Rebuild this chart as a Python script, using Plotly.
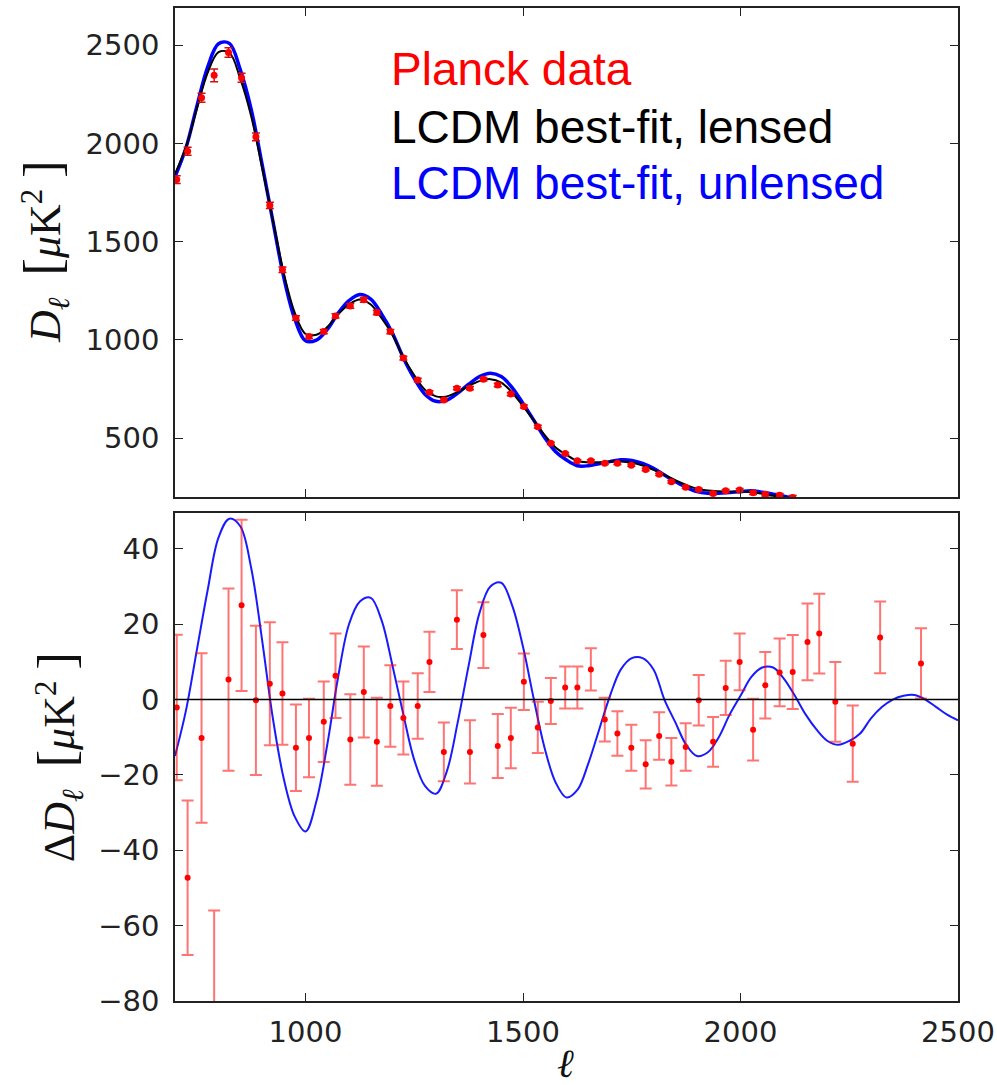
import plotly.graph_objects as go

# ---------------- data ----------------
ell_curve = [700, 725, 750, 775, 800, 825, 850, 875, 900, 925, 950, 975,
             1000, 1025, 1050, 1075, 1100, 1125, 1150, 1175, 1200, 1225, 1250, 1275,
             1300, 1325, 1350, 1375, 1400, 1425, 1450, 1475, 1500, 1525, 1550, 1575,
             1600, 1625, 1650, 1675, 1700, 1725, 1750, 1775, 1800, 1825, 1850, 1875,
             1900, 1925, 1950, 1975, 2000, 2025, 2050, 2075, 2100, 2125, 2150, 2175,
             2200, 2225, 2250, 2275, 2300, 2325, 2350, 2375, 2400, 2425, 2450, 2475, 2500]

# lensed best-fit D_ell (visible part, to ell = 2200)
dl_lensed = [1845, 1980, 2175, 2360, 2465, 2462, 2330, 2140, 1880, 1610, 1340, 1140,
             1030, 1026, 1065, 1130, 1180, 1205, 1180, 1110, 1025, 912, 820, 745,
             712, 712, 735, 765, 790, 800, 782, 732, 662, 590, 515, 452,
             414, 383, 376, 377, 379, 381, 375, 360, 338, 312, 285, 261,
             242, 233, 229, 227, 226, 225, 216, 206, 198, 188, 178, 168, 158]

# unlensed minus lensed (blue curve, lower panel)
dl_diff = [-15, -3, 13, 29, 43, 48, 46, 35, 16, -5, -21, -31,
           -35, -27, -12, 6, 20, 26, 27, 21, 9, -4, -16, -23,
           -25, -19, -6, 9, 23, 30, 31, 25, 14, 0, -13, -22,
           -26, -24, -17, -8, 1, 8, 11, 11, 8, 0, -6, -12,
           -15, -14, -10, -4, 1, 6, 8.5, 8.5, 5.5, 1, -4, -8,
           -11, -12, -11, -9, -5, -2, 0, 1, 1.2, 0, -2, -4, -5.5]

ell_bins = [704, 729, 761, 790, 823, 853, 886, 918, 947, 978, 1008, 1042, 1069, 1103,
            1134, 1164, 1195, 1225, 1258, 1285, 1318, 1348, 1378, 1409, 1442, 1472,
            1502, 1534, 1564, 1597, 1625, 1656, 1688, 1717, 1749, 1782, 1813, 1841,
            1874, 1904, 1937, 1966, 1998, 2029, 2057, 2090, 2120, 2154, 2181, 2218,
            2258, 2321, 2415]

# Planck binned D_ell (upper panel, visible bins)
dl_data = [1816, 1961, 2233, 2347, 2463, 2335, 2034, 1685, 1357, 1111, 1017, 1042,
           1122, 1173, 1204, 1139, 1042, 907, 796, 733, 694, 754, 754, 799, 770,
           724, 661, 558, 473, 421, 384, 384, 371, 371, 362, 340, 315, 277, 249,
           238, 218, 231, 235, 221, 214, 209, 197]

# residuals data - lensed best fit (lower panel)
res_data = [-2.1, -47.3, -10.2, -88, 5.3, 25.0, -0.2, 4.2, 1.6, -12.8, -10.2, -5.9,
            6.3, -10.6, 2.0, -11.2, -1.7, -4.9, -1.7, 10.0, -13.9, 21.2, -13.9, 17.1,
            -12.3, -10.2, 4.7, -7.4, -0.4, 3.2, 3.2, 8.0, -5.3, -9.0, -12.8, -17.2,
            -9.7, -16.5, -12.6, -0.2, -11.2, 3.1, 10.0, -8.0, 3.8, 7.2, 7.3, 15.3,
            17.5, -0.6, -11.7, 16.5, 9.6]
res_err = [19.3, 20.5, 22.5, 32, 24.2, 22.7, 19.8, 16.3, 13.6, 11.5, 10.4, 10.7,
           11.2, 12.0, 12.1, 11.7, 10.8, 9.7, 8.7, 8.0, 7.8, 7.8, 8.4, 8.7, 8.5,
           8.0, 7.5, 6.8, 6.1, 5.6, 5.6, 5.6, 5.8, 5.9, 6.1, 6.4, 6.3, 6.3, 6.3,
           6.7, 6.6, 7.2, 7.5, 8.2, 8.8, 9.0, 9.8, 10.2, 10.6, 10.6, 10.1, 9.5, 9.3]

y_ticks_top = [500, 1000, 1500, 2000, 2500]
y_ticks_bot = [-80, -60, -40, -20, 0, 20, 40]
x_ticks = [1000, 1500, 2000, 2500]

legend_lines = ["Planck data", "LCDM best-fit, lensed", "LCDM best-fit, unlensed"]
legend_colors = ["#ff0000", "#000000", "#0000ff"]

# ---------------- figure ----------------
n_top = len(dl_lensed)
ell_top = ell_curve[:n_top]
dl_unlensed = [a + b for a, b in zip(dl_lensed, dl_diff[:n_top])]
n_dat = len(dl_data)

fig = go.Figure()

fig.add_trace(go.Scatter(x=ell_top, y=dl_unlensed, mode="lines", line=dict(color="#0000ff", width=3.5, shape="spline"),
                         xaxis="x", yaxis="y", showlegend=False))
fig.add_trace(go.Scatter(x=ell_top, y=dl_lensed, mode="lines", line=dict(color="#000000", width=2, shape="spline"),
                         xaxis="x", yaxis="y", showlegend=False))
fig.add_trace(go.Scatter(x=ell_bins[:n_dat], y=dl_data, mode="markers",
                         marker=dict(color="#ff0000", size=7, symbol="circle"),
                         error_y=dict(type="data", array=res_err[:n_dat], color="#cc1010", thickness=1.5, width=4),
                         xaxis="x", yaxis="y", showlegend=False))

fig.add_trace(go.Scatter(x=ell_curve, y=dl_diff, mode="lines", line=dict(color="#1a1aff", width=2, shape="spline"),
                         xaxis="x2", yaxis="y2", showlegend=False))
fig.add_trace(go.Scatter(x=ell_bins, y=res_data, mode="markers",
                         marker=dict(color="#ff0000", size=6, symbol="circle"),
                         error_y=dict(type="data", array=res_err, color="rgba(255,0,0,0.55)", thickness=2, width=6),
                         xaxis="x2", yaxis="y2", showlegend=False))

fig.add_shape(type="line", xref="x2 domain", yref="y2", x0=0, x1=1, y0=0, y1=0,
              line=dict(color="black", width=1.6), layer="above")

tick_font = dict(family="DejaVu Sans", size=29, color="#222222")
common = dict(showline=True, linecolor="#222222", linewidth=1.6, mirror="ticks", ticks="inside",
              ticklen=8, tickwidth=1.2, tickcolor="#222222", showgrid=False, zeroline=False,
              tickfont=tick_font, automargin=False, ticklabeloverflow="allow")

fig.update_layout(
    width=997, height=1085,
    margin=dict(l=175, r=39, t=8, b=84),
    paper_bgcolor="white", plot_bgcolor="white",
    xaxis=dict(domain=[0, 1], range=[700, 2500], anchor="y", tickvals=x_ticks[:3], showticklabels=False, **common),
    yaxis=dict(domain=[0.5076, 1], range=[200, 2690], anchor="x", tickvals=y_ticks_top, ticklabelstandoff=8, **common),
    xaxis2=dict(domain=[0, 1], range=[700, 2500], anchor="y2", tickvals=x_ticks, ticklabelstandoff=4, **common),
    yaxis2=dict(domain=[0, 0.4914], range=[-80, 49.5], anchor="x2", tickvals=y_ticks_bot, ticklabelstandoff=8, **common),
)

serif = dict(family="Liberation Serif", size=44, color="#111111")
nb = "\u00a0"
big_l = '<span style="font-size:52px">[</span>'
big_r = '<span style="font-size:52px">]</span>'
fig.add_annotation(xref="paper", yref="paper", x=-0.166, y=0.7543, xanchor="center", yanchor="middle",
                   textangle=-90, showarrow=False, font=serif,
                   text=f"<i>D</i><sub><i>ℓ</i></sub>{nb}{nb}{big_l}<i>μ</i>K<sup>2</sup>{nb}{big_r}")
fig.add_annotation(xref="paper", yref="paper", x=-0.148, y=0.2457, xanchor="center", yanchor="middle",
                   textangle=-90, showarrow=False, font=serif,
                   text=f"Δ<i>D</i><sub><i>ℓ</i></sub>{nb}{nb}{big_l}<i>μ</i>K<sup>2</sup>{nb}{big_r}")
fig.add_annotation(xref="paper", yref="paper", x=0.499, y=-0.0634, xanchor="center", yanchor="middle",
                   showarrow=False, font=dict(family="Liberation Serif", size=40, color="#111111"),
                   text="<i>ℓ</i>")

leg_y = [0.9385, 0.8805, 0.8240]
for txt, col, yy in zip(legend_lines, legend_colors, leg_y):
    fig.add_annotation(xref="paper", yref="paper", x=0.2737, y=yy, xanchor="left", yanchor="middle",
                       showarrow=False, text=txt, font=dict(family="Liberation Sans", size=46, color=col))

fig.write_html("out.html")
